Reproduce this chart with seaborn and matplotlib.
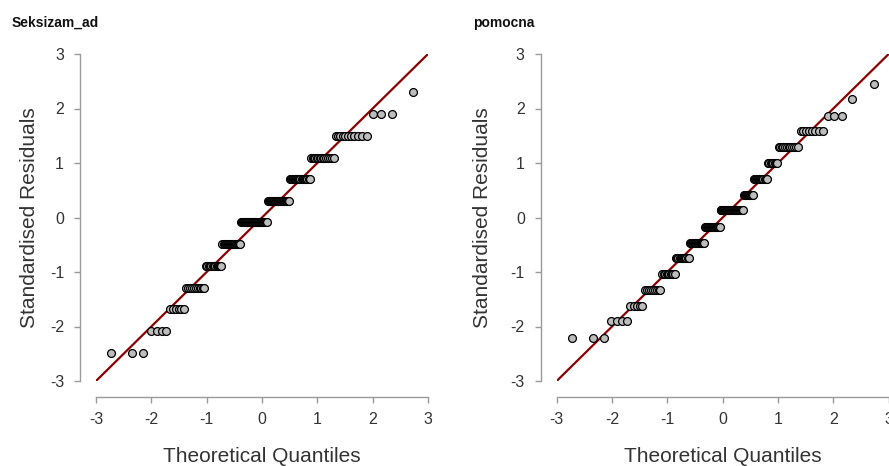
import statistics
import numpy as np
import pandas as pd
import matplotlib
matplotlib.use("Agg")
import matplotlib.pyplot as plt
import seaborn as sns

# --- DATA (residual levels and how many cases sit on each level) ---
axis_ticks = [-3, -2, -1, 0, 1, 2, 3]

seksizam_levels = [-2.48, -2.08, -1.68, -1.29, -0.89, -0.49, -0.09, 0.31, 0.71, 1.10, 1.50, 1.90, 2.30]
seksizam_counts = [3, 4, 6, 11, 13, 18, 30, 24, 19, 15, 11, 3, 1]

pomocna_levels = [-2.21, -1.90, -1.62, -1.33, -1.03, -0.75, -0.46, -0.17, 0.13,
                  0.42, 0.71, 1.00, 1.29, 1.58, 1.87, 2.17, 2.45]
pomocna_counts = [3, 4, 5, 9, 10, 12, 16, 17, 26, 10, 13, 8, 12, 8, 3, 1, 1]

titles = ["Seksizam_ad", "pomocna"]


def qq_frame(levels, counts):
    # sample residuals -> normal Q-Q coordinates, (i - 0.5) / n plotting positions
    resid = np.sort(np.repeat(levels, counts))
    n = len(resid)
    nd = statistics.NormalDist()
    theo = [nd.inv_cdf((i - 0.5) / n) for i in range(1, n + 1)]
    return pd.DataFrame({"Theoretical": theo, "Residual": resid})


sns.set_style("white")
plt.rcParams["font.family"] = ["Liberation Sans", "DejaVu Sans"]
plt.rcParams["axes.unicode_minus"] = False

fig = plt.figure(figsize=(8.89, 4.66), dpi=100)
W, H = 889, 466
ax_left_px = [96, 556.7]
axes = [fig.add_axes([x / W, 85 / H, 332 / W, 327 / H]) for x in ax_left_px]
frames = [qq_frame(seksizam_levels, seksizam_counts), qq_frame(pomocna_levels, pomocna_counts)]
ylabel_x = [-0.20, -0.225]

for ax, df, title, x_px, ylx in zip(axes, frames, titles, ax_left_px, ylabel_x):
    sns.lineplot(x=axis_ticks, y=axis_ticks, ax=ax, color="#8b0000", lw=1.6, zorder=1)
    sns.scatterplot(data=df, x="Theoretical", y="Residual", ax=ax, s=32,
                    color="#bdbdbd", edgecolor="#000000", linewidth=0.9,
                    zorder=2, clip_on=False)
    ax.set_xlim(-3, 3)
    ax.set_ylim(-3, 3)
    ax.set_xticks(axis_ticks)
    ax.set_yticks(axis_ticks)
    sns.despine(ax=ax, offset=11.5, trim=True)
    for sp in ["left", "bottom"]:
        ax.spines[sp].set_color("#9a9a9a")
        ax.spines[sp].set_linewidth(1.0)
    ax.tick_params(axis="both", bottom=True, left=True, length=4.5, width=1.0,
                   color="#9a9a9a", labelcolor="#333333", labelsize=11.5)
    ax.tick_params(axis="x", pad=6)
    ax.tick_params(axis="y", pad=7)
    ax.set_xlabel("Theoretical Quantiles", fontsize=15, color="#333333", va="center")
    ax.set_ylabel("Standardised Residuals", fontsize=15, color="#333333", va="center")
    ax.xaxis.set_label_coords(0.5, -0.232)
    ax.yaxis.set_label_coords(ylx, 0.5)
    fig.text((x_px - 84) / W, 1 - 22.5 / H, title, fontsize=10, fontweight="bold",
             color="#111111", ha="left", va="center")

fig.savefig("out.png", dpi=100)
